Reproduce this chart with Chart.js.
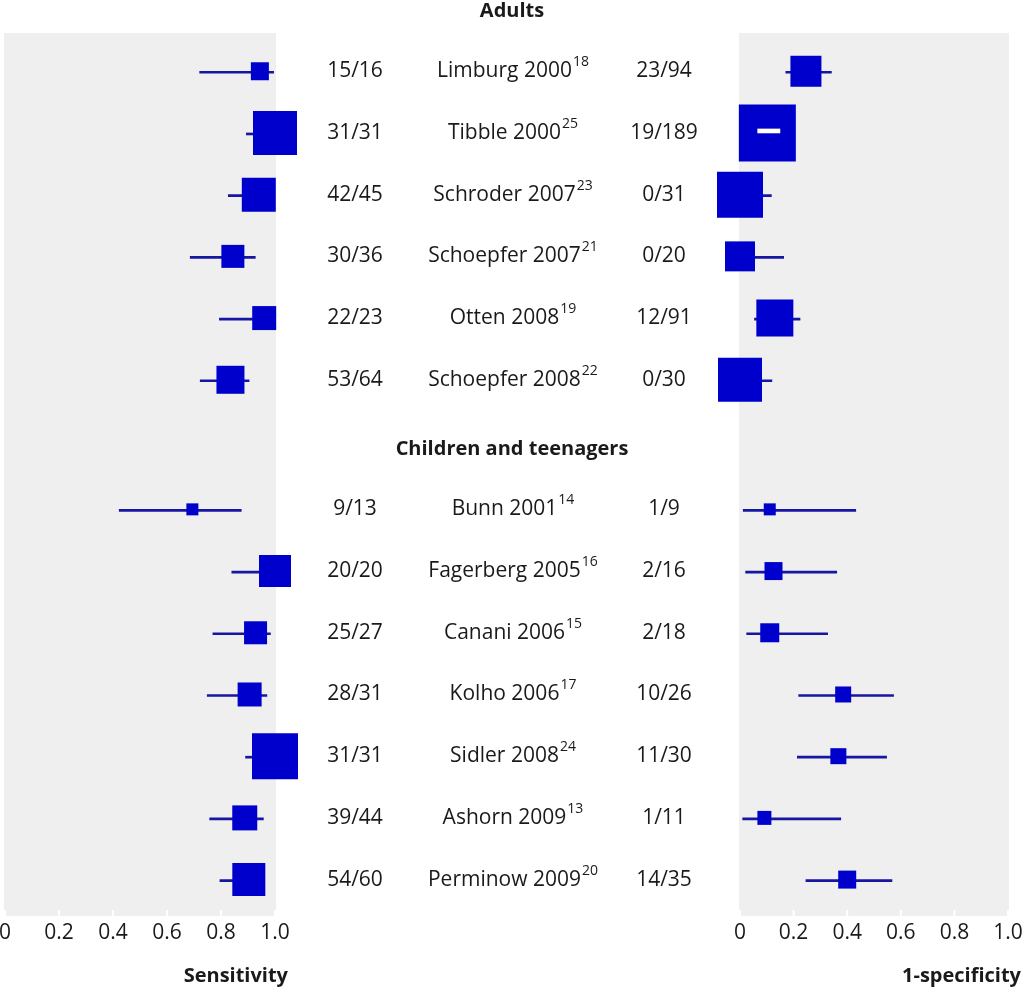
<!DOCTYPE html>
<html>
<head>
<meta charset="utf-8">
<script src="https://cdn.jsdelivr.net/npm/chart.js@4.4.1/dist/chart.umd.min.js"></script>
<style>
  html, body { margin: 0; padding: 0; background: #fff; }
  #wrap { position: relative; width: 1024px; height: 989px; }
  canvas { position: absolute; left: 0; top: 0; }
</style>
</head>
<body>
<div id="wrap">
  <canvas id="sensChart" width="1024" height="989"></canvas>
  <canvas id="specChart" width="1024" height="989"></canvas>
</div>
<script>
// ---- data ----
const groups = ['Adults', 'Children and teenagers'];
const studyGroup = [0, 0, 0, 0, 0, 0, 1, 1, 1, 1, 1, 1, 1];
const studies = ['Limburg 2000', 'Tibble 2000', 'Schroder 2007', 'Schoepfer 2007', 'Otten 2008', 'Schoepfer 2008',
                 'Bunn 2001', 'Fagerberg 2005', 'Canani 2006', 'Kolho 2006', 'Sidler 2008', 'Ashorn 2009', 'Perminow 2009'];
const refs = ['18', '25', '23', '21', '19', '22', '14', '16', '15', '17', '24', '13', '20'];
const sensCounts = ['15/16', '31/31', '42/45', '30/36', '22/23', '53/64', '9/13', '20/20', '25/27', '28/31', '31/31', '39/44', '54/60'];
const specCounts = ['23/94', '19/189', '0/31', '0/20', '12/91', '0/30', '1/9', '2/16', '2/18', '10/26', '11/30', '1/11', '14/35'];

const sens   = [0.944, 1.0, 0.94, 0.844, 0.96, 0.835, 0.694, 1.0, 0.928, 0.906, 1.0, 0.888, 0.903];
const sensLo = [0.721, 0.894, 0.827, 0.686, 0.794, 0.723, 0.423, 0.84, 0.77, 0.749, 0.891, 0.758, 0.796];
const sensHi = [0.995, 1.0, 0.98, 0.927, 0.999, 0.904, 0.875, 1.0, 0.983, 0.97, 1.0, 0.957, 0.96];
const sensWeight = [1.8, 4.4, 3.4, 2.3, 2.4, 2.8, 1.2, 3.2, 2.3, 2.4, 4.6, 2.5, 3.3];

const spec   = [0.246, 0.102, 0, 0, 0.13, 0, 0.111, 0.125, 0.111, 0.385, 0.367, 0.091, 0.40];
const specLo = [0.171, 0.066, 0, 0, 0.054, 0, 0.012, 0.021, 0.025, 0.219, 0.214, 0.01, 0.246];
const specHi = [0.341, 0.149, 0.117, 0.163, 0.224, 0.119, 0.432, 0.361, 0.327, 0.573, 0.547, 0.376, 0.567];
const specWeight = [3.1, 5.7, 4.6, 3.0, 3.7, 4.4, 1.2, 1.8, 1.9, 1.6, 1.6, 1.4, 1.8];

const tickValues = [0, 0.2, 0.4, 0.6, 0.8, 1.0];
const tickLabels = ['0', '0.2', '0.4', '0.6', '0.8', '1.0'];

// ---- layout / style ----
const SQUARE_UNIT = 10;      // px of square side per weight unit
const GROUP_GAP = 0.1;       // extra row space before a new group
const FONT = '"Open Sans", "Noto Sans", sans-serif';
const BOX_COLOR = '#0000cc';
const LINE_COLOR = '#1616a0';
const TEXT_COLOR = '#1a1a1a';

// row index for every study, with a header row per group
let rowOf = [];
let headerRows = [];
let r = -1;
studies.forEach((s, i) => {
    if (i === 0 || studyGroup[i] !== studyGroup[i - 1]) {
        if (i > 0) r += GROUP_GAP;
        headerRows.push({ label: groups[studyGroup[i]], row: r });
        r++;
    }
    rowOf.push(r);
    r++;
});

var bgPlugin = {
    id: 'panelBg',
    beforeDraw: function (chart) {
        var a = chart.chartArea, ctx = chart.ctx;
        ctx.save();
        ctx.fillStyle = '#efefef';
        ctx.fillRect(a.left - 1, a.top, a.right - a.left + 2, a.bottom - a.top);
        ctx.restore();
    }
};

function axisPlugin(title, titleRight) {
    return {
        id: 'axisText',
        afterDraw: function (chart) {
            var ctx = chart.ctx, x = chart.scales.x, a = chart.chartArea;
            ctx.save();
            tickValues.forEach((v, i) => {
                var px = x.getPixelForValue(v);
                ctx.fillStyle = '#ffffff';
                ctx.fillRect(px - 1, a.bottom - 6, 2, 6);
                ctx.fillStyle = TEXT_COLOR;
                ctx.font = '21px ' + FONT;
                ctx.textAlign = 'center';
                ctx.textBaseline = 'middle';
                ctx.fillText(tickLabels[i], px, a.bottom + 17);
            });
            ctx.font = 'bold 20px ' + FONT;
            ctx.textAlign = 'right';
            ctx.fillText(title, titleRight, 976);
            ctx.restore();
        }
    };
}

var middlePlugin = {
    id: 'middleText',
    afterDraw: function (chart) {
        var ctx = chart.ctx, y = chart.scales.y;
        ctx.save();
        ctx.fillStyle = TEXT_COLOR;
        ctx.textBaseline = 'middle';

        ctx.font = 'bold 20px ' + FONT;
        ctx.textAlign = 'center';
        headerRows.forEach(h => ctx.fillText(h.label, 512, y.getPixelForValue(h.row) + 2));

        studies.forEach((name, i) => {
            var py = y.getPixelForValue(rowOf[i]);
            ctx.font = '21px ' + FONT;
            ctx.textAlign = 'center';
            ctx.fillText(sensCounts[i], 355, py);
            ctx.fillText(specCounts[i], 664, py);

            var w1 = ctx.measureText(name).width;
            ctx.font = '14px ' + FONT;
            var w2 = ctx.measureText(refs[i]).width;
            var left = 513 - (w1 + 1 + w2) / 2;
            ctx.textAlign = 'left';
            ctx.font = '21px ' + FONT;
            ctx.fillText(name, left, py);
            ctx.font = '14px ' + FONT;
            ctx.fillText(refs[i], left + w1 + 1, py - 9);
        });
        ctx.restore();
    }
};

function makePanel(id, values, lo, hi, weights, padding, plugins) {
    var ctx = document.getElementById(id).getContext('2d');
    return new Chart(ctx, {
        type: 'scatter',
        data: {
            datasets: [
                {   // white CI when it fits inside its square
                    type: 'bar',
                    indexAxis: 'y',
                    data: lo.map((l, i) => ({ y: rowOf[i], x: [l, hi[i]] })),
                    backgroundColor: function (c) {
                        var i = c.dataIndex, sx = c.chart.scales.x;
                        var mid = sx.getPixelForValue(values[i]);
                        var half = weights[i] * SQUARE_UNIT / 2;
                        return (sx.getPixelForValue(lo[i]) > mid - half && sx.getPixelForValue(hi[i]) < mid + half)
                            ? '#ffffff' : 'rgba(0,0,0,0)';
                    },
                    barThickness: 4,
                    borderWidth: 0,
                    clip: false,
                    order: 0
                },
                {
                    data: values.map((v, i) => ({ x: v, y: rowOf[i] })),
                    pointStyle: 'rect',
                    pointRadius: c => weights[c.dataIndex] * SQUARE_UNIT / Math.SQRT2,
                    pointHoverRadius: c => weights[c.dataIndex] * SQUARE_UNIT / Math.SQRT2,
                    backgroundColor: BOX_COLOR,
                    borderColor: BOX_COLOR,
                    borderWidth: 0,
                    clip: false,
                    order: 1
                },
                {
                    type: 'bar',
                    indexAxis: 'y',
                    data: lo.map((l, i) => ({ y: rowOf[i], x: [l, hi[i]] })),
                    backgroundColor: LINE_COLOR,
                    barThickness: 2,
                    borderWidth: 0,
                    clip: false,
                    order: 2
                }
            ]
        },
        options: {
            responsive: false,
            animation: false,
            events: [],
            layout: { padding: padding, autoPadding: false },
            plugins: { legend: { display: false }, tooltip: { enabled: false } },
            scales: {
                x: { type: 'linear', min: 0, max: 1, offset: false, display: false },
                y: { type: 'linear', min: -0.62, max: 13.69, reverse: true, offset: false, display: false }
            }
        },
        plugins: plugins
    });
}

makePanel('sensChart', sens, sensLo, sensHi, sensWeight,
    { left: 5, right: 749, top: 33, bottom: 73 },
    [bgPlugin, axisPlugin('Sensitivity', 288), middlePlugin]);

makePanel('specChart', spec, specLo, specHi, specWeight,
    { left: 740, right: 16, top: 33, bottom: 73 },
    [bgPlugin, axisPlugin('1-specificity', 1021)]);
</script>
</body>
</html>
